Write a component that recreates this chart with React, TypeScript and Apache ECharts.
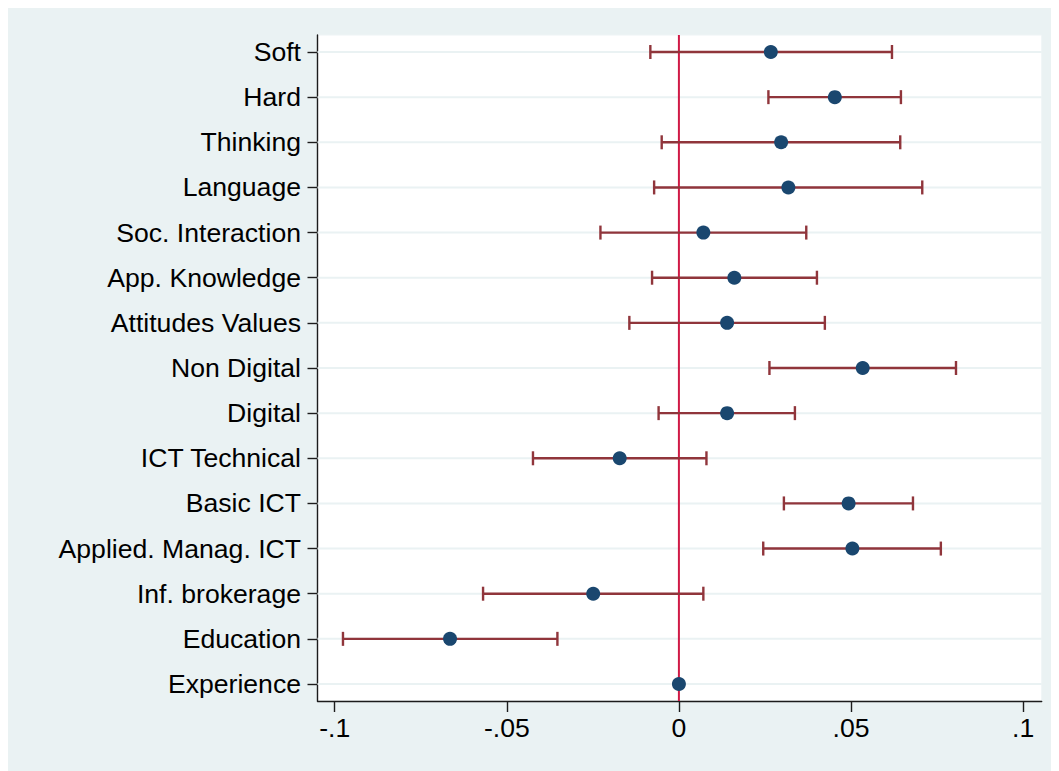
import React, { useEffect, useRef } from "react";
import * as echarts from "echarts";

// Coefficient plot: point estimates with 95% confidence intervals
const categories = [
  "Soft",
  "Hard",
  "Thinking",
  "Language",
  "Soc. Interaction",
  "App. Knowledge",
  "Attitudes Values",
  "Non Digital",
  "Digital",
  "ICT Technical",
  "Basic ICT",
  "Applied. Manag. ICT",
  "Inf. brokerage",
  "Education",
  "Experience",
];

const estimates = [
  0.0267, 0.0453, 0.0297, 0.0318, 0.0071, 0.0161, 0.014, 0.0534, 0.014,
  -0.0172, 0.0493, 0.0504, -0.0249, -0.0665, 0,
];

const lowerCI: (number | null)[] = [
  -0.0083, 0.026, -0.005, -0.0072, -0.0228, -0.0078, -0.0144, 0.0263, -0.0059,
  -0.0424, 0.0305, 0.0245, -0.0569, -0.0976, null,
];

const upperCI: (number | null)[] = [
  0.0619, 0.0645, 0.0643, 0.0707, 0.037, 0.0401, 0.0424, 0.0805, 0.0337,
  0.008, 0.068, 0.0761, 0.0071, -0.0353, null,
];

const xTicks = [-0.1, -0.05, 0, 0.05, 0.1];
const referenceLine = [0];

const BG = "#EAF2F3";
const MARKER = "#1A476F";
const CI_COLOR = "#90353B";
const REF_COLOR = "#D01A46";
const AXIS_COLOR = "#1c1c1c";
const FONT = "'Liberation Sans', Arial, sans-serif";
const FONT_SIZE = 26.6;

function fmtTick(v: number): string {
  if (v === 0) return "0";
  const s = String(Math.abs(v)).replace(/^0/, "");
  return (v < 0 ? "-" : "") + s;
}

export default function App() {
  const ref = useRef<HTMLDivElement>(null);

  useEffect(() => {
    if (!ref.current) return;
    const chart = echarts.init(ref.current, null, { renderer: "svg" });

    const yIdx = categories.map((_, i) => i);
    const ciData = categories
      .map((_, i) => [i, lowerCI[i], upperCI[i]])
      .filter((d) => d[1] !== null && d[2] !== null);

    const option: any = {
      animation: false,
      backgroundColor: BG,
      textStyle: { fontFamily: FONT },
      grid: {
        left: 309.5,
        top: 27,
        right: 17.3,
        bottom: 70,
        show: true,
        backgroundColor: "#FFFFFF",
        borderColor: "#EEF4F5",
        borderWidth: 1,
      },
      xAxis: {
        type: "value",
        min: -0.105,
        max: 0.1054,
        splitLine: { show: false },
        axisLine: { show: true, onZero: false, lineStyle: { color: AXIS_COLOR, width: 1.4 } },
        axisTick: {
          show: true,
          length: 11,
          customValues: xTicks,
          lineStyle: { color: AXIS_COLOR, width: 1.4 },
        },
        axisLabel: {
          customValues: xTicks,
          formatter: (v: number) => fmtTick(v),
          color: "#000",
          fontSize: FONT_SIZE,
          fontFamily: FONT,
          margin: 13,
        },
      },
      yAxis: {
        type: "value",
        inverse: true,
        min: -0.377,
        max: 14.377,
        splitLine: { show: false },
        axisLine: { show: true, onZero: false, lineStyle: { color: AXIS_COLOR, width: 1.4 } },
        axisTick: {
          show: true,
          length: 10,
          customValues: yIdx,
          lineStyle: { color: AXIS_COLOR, width: 1.4 },
        },
        axisLabel: {
          customValues: yIdx,
          formatter: (v: number) => categories[Math.round(v)] ?? "",
          color: "#000",
          fontSize: FONT_SIZE,
          fontFamily: FONT,
          margin: 16.5,
        },
      },
      series: [
        {
          // horizontal guide lines at each category
          type: "custom",
          z: 1,
          silent: true,
          data: yIdx.map((i) => [i]),
          encode: { y: 0 },
          renderItem: (params: any, api: any) => {
            const cs = params.coordSys;
            const y = api.coord([0, api.value(0)])[1];
            return {
              type: "line",
              shape: { x1: cs.x, y1: y, x2: cs.x + cs.width, y2: y },
              style: { stroke: BG, lineWidth: 2 },
            };
          },
        },
        {
          // vertical reference line at zero
          type: "custom",
          z: 2,
          silent: true,
          data: referenceLine.map((v) => [v]),
          encode: { x: 0 },
          renderItem: (params: any, api: any) => {
            const cs = params.coordSys;
            const x = api.coord([api.value(0), 0])[0];
            return {
              type: "line",
              shape: { x1: x, y1: cs.y, x2: x, y2: cs.y + cs.height },
              style: { stroke: REF_COLOR, lineWidth: 2 },
            };
          },
        },
        {
          // confidence intervals with end caps
          type: "custom",
          z: 3,
          silent: true,
          data: ciData,
          encode: { x: [1, 2], y: 0 },
          renderItem: (_params: any, api: any) => {
            const y = api.value(0);
            const a = api.coord([api.value(1), y]);
            const b = api.coord([api.value(2), y]);
            const h = 7;
            const style = { stroke: CI_COLOR, lineWidth: 2.4 };
            return {
              type: "group",
              children: [
                { type: "line", shape: { x1: a[0], y1: a[1], x2: b[0], y2: b[1] }, style },
                { type: "line", shape: { x1: a[0], y1: a[1] - h, x2: a[0], y2: a[1] + h }, style },
                { type: "line", shape: { x1: b[0], y1: b[1] - h, x2: b[0], y2: b[1] + h }, style },
              ],
            };
          },
        },
        {
          type: "scatter",
          z: 4,
          symbol: "circle",
          symbolSize: 14,
          itemStyle: { color: MARKER, opacity: 1 },
          data: estimates.map((v, i) => [v, i]),
        },
      ],
    };

    chart.setOption(option);
    return () => chart.dispose();
  }, []);

  return <div ref={ref} style={{ width: 1051, height: 763 }} />;
}
